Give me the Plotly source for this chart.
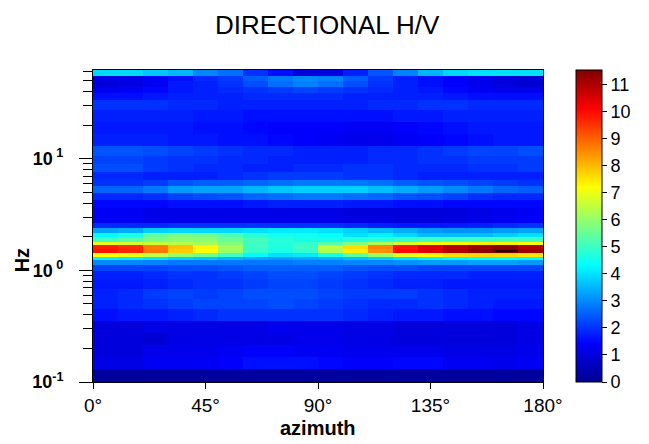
import plotly.graph_objects as go
import numpy as np

# azimuth bin edges (degrees)
azimuth_edges = [0, 10, 20, 30, 40, 50, 60, 70, 80, 90, 100, 110, 120, 130, 140, 150, 160, 170, 180]

# frequency bin edges (Hz), listed from top to bottom
freq_edges = [62.3, 55.1, 49.7, 43.9, 38.8, 33.6, 27.4, 21.4, 16.7, 13.1, 10.6,
              9.03, 7.65, 6.49, 5.74, 4.97, 4.30, 3.65, 3.10, 2.68, 2.42, 2.18,
              1.97, 1.81, 1.67, 1.54, 1.42, 1.33, 1.23, 1.11, 0.98, 0.831, 0.677,
              0.551, 0.449, 0.350, 0.274, 0.214, 0.167, 0.131, 0.100]

# H/V amplitude, one row per frequency bin (top to bottom), one value per azimuth bin
hv = [
    [3.9, 3.9, 3.7, 3.5, 3.0, 2.7, 2.0, 1.6, 1.0, 1.1, 1.8, 2.4, 2.9, 3.5, 3.9, 4.0, 4.0, 4.0],
    [1.1, 1.1, 1.3, 1.6, 1.9, 2.1, 2.5, 2.8, 3.0, 2.9, 2.5, 2.1, 1.8, 1.6, 1.4, 1.2, 1.0, 0.9],
    [1.0, 1.1, 1.3, 1.7, 1.8, 2.0, 2.3, 2.7, 2.9, 2.7, 2.3, 2.0, 1.8, 1.6, 1.4, 1.2, 1.0, 0.9],
    [1.2, 1.3, 1.5, 1.7, 1.8, 1.9, 2.0, 2.1, 2.2, 2.1, 2.0, 1.9, 1.8, 1.7, 1.5, 1.3, 1.2, 1.2],
    [1.6, 1.6, 1.7, 1.8, 1.8, 1.8, 1.9, 1.9, 1.9, 1.9, 1.8, 1.8, 1.8, 1.8, 1.7, 1.6, 1.6, 1.6],
    [2.0, 2.0, 2.0, 1.9, 1.9, 1.8, 1.8, 1.8, 1.8, 1.8, 1.8, 1.9, 1.9, 2.0, 2.0, 1.9, 1.9, 1.9],
    [1.8, 1.8, 1.8, 1.8, 1.7, 1.7, 1.6, 1.6, 1.6, 1.6, 1.6, 1.6, 1.7, 1.7, 1.8, 1.8, 1.8, 1.8],
    [1.7, 1.7, 1.7, 1.7, 1.6, 1.6, 1.5, 1.4, 1.4, 1.4, 1.3, 1.3, 1.4, 1.5, 1.6, 1.7, 1.7, 1.7],
    [1.8, 1.8, 1.8, 1.7, 1.7, 1.6, 1.6, 1.5, 1.4, 1.3, 1.2, 1.2, 1.3, 1.4, 1.5, 1.6, 1.7, 1.7],
    [2.4, 2.4, 2.3, 2.2, 2.1, 2.0, 1.9, 1.9, 1.8, 1.8, 1.8, 1.9, 1.9, 2.0, 2.1, 2.2, 2.2, 2.3],
    [2.2, 2.2, 2.1, 2.0, 2.0, 1.9, 1.9, 1.8, 1.8, 1.8, 1.8, 1.9, 1.9, 2.0, 2.0, 2.1, 2.1, 2.1],
    [2.3, 2.3, 2.1, 2.0, 1.9, 1.9, 1.8, 1.8, 1.9, 1.9, 2.0, 2.0, 1.9, 1.9, 1.9, 2.0, 2.0, 2.1],
    [1.9, 1.9, 1.8, 1.8, 1.8, 1.9, 2.0, 2.1, 2.1, 2.1, 2.0, 2.0, 1.9, 1.8, 1.8, 1.8, 1.8, 1.8],
    [2.0, 2.0, 2.1, 2.4, 2.5, 2.5, 2.6, 2.7, 2.8, 2.8, 2.8, 2.7, 2.5, 2.4, 2.3, 2.2, 2.1, 2.0],
    [2.6, 2.6, 2.8, 3.2, 3.3, 3.3, 3.5, 3.7, 3.8, 3.8, 3.8, 3.6, 3.4, 3.2, 3.0, 2.8, 2.6, 2.5],
    [1.9, 1.9, 2.0, 2.2, 2.3, 2.4, 2.6, 2.7, 2.8, 2.8, 2.7, 2.6, 2.4, 2.3, 2.2, 2.0, 1.9, 1.9],
    [1.5, 1.5, 1.5, 1.6, 1.6, 1.6, 1.7, 1.8, 1.8, 1.8, 1.7, 1.7, 1.6, 1.6, 1.5, 1.5, 1.5, 1.5],
    [1.3, 1.3, 1.1, 1.1, 1.1, 1.1, 1.1, 1.1, 1.1, 1.1, 1.0, 1.0, 1.0, 1.0, 1.0, 1.1, 1.2, 1.3],
    [1.3, 1.3, 1.2, 1.2, 1.2, 1.2, 1.2, 1.2, 1.2, 1.2, 1.1, 1.1, 1.0, 1.0, 1.1, 1.2, 1.3, 1.4],
    [1.9, 1.9, 1.9, 2.0, 2.0, 2.0, 2.0, 2.0, 2.0, 2.0, 1.9, 1.8, 1.7, 1.7, 1.7, 1.8, 1.9, 2.0],
    [3.3, 3.4, 3.8, 3.9, 3.9, 3.9, 4.0, 4.1, 4.1, 4.0, 3.8, 3.6, 3.4, 3.2, 3.1, 3.1, 3.2, 3.3],
    [4.3, 4.6, 5.4, 5.7, 5.6, 5.2, 4.8, 4.5, 4.5, 4.4, 4.0, 4.2, 3.9, 3.6, 3.6, 3.6, 3.8, 4.0],
    [5.0, 5.3, 5.7, 5.9, 5.9, 5.5, 5.1, 4.8, 4.6, 4.6, 4.7, 4.8, 4.9, 5.0, 5.0, 5.0, 5.1, 5.0],
    [7.0, 6.8, 6.6, 6.4, 6.2, 5.8, 5.0, 4.7, 4.9, 5.3, 5.8, 6.3, 6.8, 7.1, 7.3, 7.4, 7.4, 7.2],
    [9.8, 9.6, 8.7, 7.9, 7.3, 6.2, 5.0, 4.7, 5.0, 6.5, 7.6, 8.6, 9.9, 10.4, 10.9, 11.2, 11.4, 11.0],
    [9.9, 9.7, 8.8, 7.8, 7.2, 6.1, 4.9, 4.6, 4.9, 6.3, 7.4, 8.5, 10.0, 10.5, 11.0, 11.4, 11.5, 11.2],
    [7.2, 7.0, 6.5, 6.0, 5.6, 5.0, 4.3, 4.0, 4.1, 4.6, 5.4, 6.1, 6.9, 7.3, 7.6, 7.7, 7.7, 7.5],
    [4.2, 4.1, 4.0, 3.8, 3.7, 3.5, 3.3, 3.2, 3.3, 3.4, 3.6, 3.8, 4.0, 4.2, 4.3, 4.4, 4.4, 4.3],
    [3.0, 3.0, 2.9, 2.8, 2.8, 2.8, 2.8, 2.8, 2.9, 2.9, 3.0, 3.0, 3.1, 3.2, 3.2, 3.3, 3.3, 3.2],
    [2.2, 2.2, 2.2, 2.3, 2.3, 2.4, 2.5, 2.5, 2.5, 2.5, 2.4, 2.3, 2.3, 2.2, 2.2, 2.2, 2.2, 2.2],
    [1.8, 1.8, 1.9, 2.0, 2.0, 2.1, 2.2, 2.3, 2.3, 2.2, 2.1, 2.0, 1.9, 1.9, 1.9, 1.8, 1.8, 1.8],
    [1.7, 1.7, 1.8, 1.9, 2.0, 2.0, 2.1, 2.2, 2.2, 2.1, 2.0, 1.9, 1.8, 1.8, 1.7, 1.7, 1.7, 1.7],
    [1.8, 1.9, 2.1, 2.2, 2.1, 2.2, 2.3, 2.3, 2.3, 2.2, 2.1, 2.1, 2.1, 2.0, 1.9, 1.8, 1.8, 1.8],
    [1.8, 1.9, 2.0, 2.1, 2.2, 2.2, 2.2, 2.3, 2.2, 2.1, 2.0, 1.9, 1.9, 2.0, 1.9, 1.8, 1.7, 1.7],
    [1.6, 1.7, 1.7, 1.8, 1.9, 2.0, 2.0, 2.0, 2.0, 2.0, 1.9, 1.8, 1.7, 1.7, 1.6, 1.6, 1.5, 1.5],
    [1.0, 1.0, 1.1, 1.1, 1.1, 1.1, 1.1, 1.2, 1.2, 1.2, 1.1, 1.1, 1.0, 1.0, 1.0, 1.0, 1.0, 1.1],
    [1.0, 1.0, 0.9, 1.1, 1.1, 1.1, 1.1, 1.1, 1.2, 1.2, 1.1, 1.1, 1.0, 1.0, 1.0, 1.0, 1.0, 1.1],
    [1.0, 1.0, 1.2, 1.2, 1.2, 1.3, 1.4, 1.4, 1.3, 1.3, 1.2, 1.2, 1.2, 1.2, 1.1, 1.1, 1.1, 1.2],
    [1.1, 1.1, 1.3, 1.3, 1.3, 1.4, 1.6, 1.6, 1.6, 1.5, 1.4, 1.4, 1.5, 1.5, 1.3, 1.3, 1.2, 1.3],
    [0.2, 0.2, 0.2, 0.2, 0.2, 0.2, 0.2, 0.2, 0.2, 0.2, 0.2, 0.2, 0.2, 0.2, 0.2, 0.2, 0.2, 0.2],
]

# maximum marker
peak_azimuth = [160, 170]
peak_freq = [1.49, 1.49]

x_tickvals = [0, 45, 90, 135, 180]
x_ticktext = ["0°", "45°", "90°", "135°", "180°"]
y_tickvals = [0.1, 1, 10]
y_ticktext = ["<b>10<sup>-1</sup></b>", "<b>10<sup> 0</sup></b>", "<b>10<sup> 1</sup></b>"]

jet = [[0.0, "#00008F"], [0.125, "#0000FF"], [0.375, "#00FFFF"],
       [0.625, "#FFFF00"], [0.875, "#FF0000"], [1.0, "#800000"]]

FONT = "Arial, Liberation Sans, sans-serif"

fig = go.Figure()
fig.add_trace(go.Heatmap(
    x=azimuth_edges,
    y=freq_edges[::-1],
    z=hv[::-1],
    colorscale=jet,
    zmin=0, zmax=11.55,
    zsmooth=False,
    showscale=True,
    colorbar=dict(
        x=1.0733, xanchor="left", xpad=0,
        y=0.5, yanchor="middle", ypad=0,
        len=1, lenmode="fraction",
        thickness=26, thicknessmode="pixels",
        outlinewidth=1, outlinecolor="black",
        tick0=0, dtick=1, ticks="outside", ticklen=5, tickcolor="black",
        tickfont=dict(family=FONT, size=18, color="black"),
    ),
))
fig.add_trace(go.Scatter(
    x=peak_azimuth, y=peak_freq, mode="lines",
    line=dict(color="black", width=1.5), showlegend=False, hoverinfo="skip",
))

fig.update_layout(
    width=649, height=444,
    margin=dict(l=93, r=106, t=70, b=62),
    paper_bgcolor="white", plot_bgcolor="white",
    font=dict(family=FONT, color="black"),
    showlegend=False,
    title=dict(text="DIRECTIONAL H/V", x=0.504, xref="container", xanchor="center",
               y=0.944, yref="container", yanchor="middle",
               font=dict(family=FONT, size=26, color="black")),
    xaxis=dict(
        range=[azimuth_edges[0], azimuth_edges[-1]],
        tickvals=x_tickvals, ticktext=x_ticktext,
        ticks="outside", ticklen=6, tickcolor="black",
        showline=True, linecolor="black", linewidth=1, mirror=True,
        showgrid=False, zeroline=False,
        tickfont=dict(family=FONT, size=19, color="black"),
    ),
    yaxis=dict(
        type="log",
        range=[np.log10(freq_edges[-1]), np.log10(freq_edges[0])],
        tickvals=y_tickvals, ticktext=y_ticktext,
        ticks="outside", ticklen=13, tickcolor="black",
        ticklabelstandoff=12,
        minor=dict(ticks="outside", ticklen=9, tickcolor="black", dtick="D1", showgrid=False),
        showline=True, linecolor="black", linewidth=1, mirror=True,
        showgrid=False, zeroline=False,
        tickfont=dict(family=FONT, size=18, color="black"),
    ),
    annotations=[
        dict(text="<b>azimuth</b>", xref="paper", yref="paper", x=0.5, y=-0.148,
             xanchor="center", yanchor="middle", showarrow=False,
             font=dict(family=FONT, size=20, color="black")),
        dict(text="<b>Hz</b>", xref="paper", yref="paper", x=-0.157, y=0.391,
             xanchor="center", yanchor="middle", showarrow=False, textangle=-90,
             font=dict(family=FONT, size=20, color="black")),
    ],
)

fig.write_html("out.html")
